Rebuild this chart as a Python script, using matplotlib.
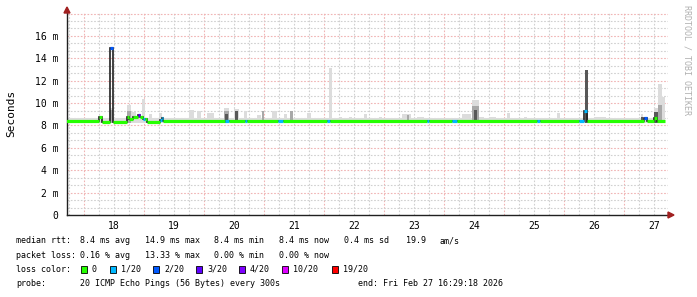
import matplotlib
matplotlib.use("Agg")
import matplotlib.pyplot as plt
from matplotlib.patches import Polygon, Rectangle
import numpy as np

W, H = 697, 297

# time axis in hours since Feb 17 00:00; values in ms
MEDIAN_EDGES_H = [16.4, 30.0, 31.2, 34.4, 35.6, 41.2, 42.0, 43.6, 45.6, 46.4,
                  47.6, 48.4, 49.2, 54.4, 55.2, 55.6, 80.4, 82.0, 88.4, 89.2,
                  101.6, 103.6, 121.2, 122.4, 161.2, 162.0, 171.2, 173.2, 205.2, 206.4,
                  222.0, 224.0, 225.2, 248.0, 249.2, 252.0, 253.2, 256.4]
MEDIAN_MS = [8.4, 8.8, 8.35, 14.9, 8.35, 8.8, 8.6, 8.75, 8.9, 8.75,
             8.6, 8.55, 8.3, 8.45, 8.7, 8.4, 8.4, 8.4, 8.4, 8.4,
             8.4, 8.4, 8.4, 8.4, 8.4, 8.4, 8.4, 8.4, 8.4, 8.4,
             8.4, 9.3, 8.4, 8.7, 8.4, 8.7, 8.4]
MEDIAN_LOSS = [0, 0, 0, 2, 0, 0, 0, 0, 3, 0,
               1, 0, 0, 1, 1, 0, 1, 0, 1, 0,
               1, 0, 1, 0, 1, 0, 1, 0, 1, 0,
               1, 1, 0, 2, 0, 0, 0]

LOSS_LEVELS = [0, 1, 2, 3, 4, 10, 19]
LOSS_LABELS = ["0", "1/20", "2/20", "3/20", "4/20", "10/20", "19/20"]
LOSS_COLORS = {0: "#26ff00", 1: "#00b8ff", 2: "#0059ff", 3: "#5e00ff",
               4: "#7e00ff", 10: "#dd00ff", 19: "#ff0000"}

# smoke: thin band around the median plus taller columns
SMOKE_BAND_MS = (8.2, 8.7)
SMOKE_BAND_H = (16.4, 256.4)
SMOKE_START_H = [34.4, 34.4, 41.2, 41.2, 42.8, 47.2, 50.0, 54.0, 66.0, 69.2,
                 73.2, 80.0, 80.0, 80.4, 84.0, 84.4, 88.0, 93.2, 95.2, 99.2,
                 104.0, 106.4, 113.2, 122.0, 126.0, 130.0, 136.0, 142.0, 151.2, 153.2,
                 157.2, 175.2, 179.2, 179.2, 180.0, 182.0, 186.0, 193.2, 200.0, 213.2,
                 224.4, 228.0, 246.8, 246.8, 252.0, 252.0, 253.6, 253.6, 255.2]
SMOKE_END_H = [35.6, 35.6, 42.8, 42.8, 44.8, 48.4, 51.2, 55.2, 68.0, 70.8,
               76.0, 82.0, 82.0, 81.6, 86.0, 85.6, 89.2, 94.8, 96.0, 101.2,
               105.2, 107.6, 114.8, 123.2, 127.2, 131.2, 137.2, 143.2, 154.8, 154.0,
               160.0, 178.8, 182.0, 182.0, 181.2, 184.0, 188.8, 194.4, 201.2, 214.4,
               225.6, 232.8, 247.6, 247.6, 253.6, 253.6, 255.2, 255.2, 256.4]
SMOKE_TOP_MS = [9.6, 9.4, 9.8, 9.3, 9.2, 10.4, 9.0, 9.1, 9.4, 9.3,
                9.1, 9.6, 9.3, 9.0, 9.5, 9.3, 9.3, 8.9, 9.3, 9.3,
                9.0, 9.3, 9.1, 13.1, 8.8, 8.8, 9.0, 8.8, 9.0, 8.9,
                8.8, 9.0, 10.3, 9.7, 9.4, 8.8, 8.8, 9.1, 8.8, 9.1,
                13.0, 8.8, 9.0, 8.8, 9.6, 9.2, 11.7, 9.8, 10.5]
SMOKE_SHADE = [0, 1, 0, 1, 0, 0, 0, 0, 0, 0,
               0, 0, 1, 2, 0, 2, 0, 0, 1, 0,
               0, 1, 0, 0, 0, 0, 0, 0, 0, 1,
               0, 0, 0, 1, 2, 0, 0, 0, 0, 0,
               2, 0, 0, 2, 0, 2, 0, 1, 0]
SHADE_COLORS = ["#dcdcdc", "#a8a8a8", "#585858"]

DAY_LABELS = ["18", "19", "20", "21", "22", "23", "24", "25", "26", "27"]
DAY_NOON_H = [36, 60, 84, 108, 132, 156, 180, 204, 228, 252]
Y_TICKS = [0, 2, 4, 6, 8, 10, 12, 14, 16]
Y_LABELS = ["0", "2 m", "4 m", "6 m", "8 m", "10 m", "12 m", "14 m", "16 m"]

LEGEND_ROWS = [
    ("median rtt:", [(80, "8.4 ms avg"), (145, "14.9 ms max"), (214, "8.4 ms min"),
                     (279, "8.4 ms now"), (344, "0.4 ms sd"), (406, "19.9"), (440, "am/s")]),
    ("packet loss:", [(80, "0.16 % avg"), (145, "13.33 % max"), (214, "0.00 % min"),
                      (279, "0.00 % now")]),
    ("loss color:", []),
    ("probe:", [(80, "20 ICMP Echo Pings (56 Bytes) every 300s"),
                (358, "end: Fri Feb 27 16:29:18 2026")]),
]
ROW_Y = [240.5, 255.5, 269.0, 283.5]
BOX_X = [81, 110, 153, 196, 239, 282, 332]

plt.rcParams["font.family"] = "DejaVu Sans Mono"

X0, X1 = 17.2, 257.6
Y0, Y1 = 0, 18.14


def fx(px):
    return px / W


def fy(py):
    return 1 - py / H


fig = plt.figure(figsize=(W / 100, H / 100), dpi=100)
fig.patch.set_facecolor("white")
ax = fig.add_axes([fx(67), fy(215), fx(668) - fx(67), fy(12) - fy(215)])
ax.set_xlim(X0, X1)
ax.set_ylim(Y0, Y1)

# grid
for h in np.arange(18, X1, 6):
    major = h % 24 == 0
    ax.axvline(h, color="#f0b4b4" if major else "#d0d0d0", lw=0.8,
               ls=(0, (1.5, 1.5)), zorder=0)
for v in np.arange(2 / 3, Y1, 2 / 3):
    major = abs(v / 2 - round(v / 2)) < 1e-6
    ax.axhline(v, color="#f0b4b4" if major else "#d0d0d0", lw=0.8,
               ls=(0, (1.5, 1.5)), zorder=0)

# smoke
ax.fill_between(SMOKE_BAND_H, SMOKE_BAND_MS[0], SMOKE_BAND_MS[1],
                color=SHADE_COLORS[0], lw=0, zorder=1)
start = np.array(SMOKE_START_H)
end = np.array(SMOKE_END_H)
top = np.array(SMOKE_TOP_MS)
shade = np.array(SMOKE_SHADE)
for s in range(3):
    m = shade == s
    ax.bar(start[m], top[m] - SMOKE_BAND_MS[0], width=end[m] - start[m],
           bottom=SMOKE_BAND_MS[0], align="edge", color=SHADE_COLORS[s],
           lw=0, zorder=2 + s)

# median: thin dark line with thick loss-coloured segments
ax.stairs(MEDIAN_MS, MEDIAN_EDGES_H, baseline=None, color="#202020",
          lw=1.2, zorder=6)
for i, v in enumerate(MEDIAN_MS):
    ax.hlines(v, MEDIAN_EDGES_H[i], MEDIAN_EDGES_H[i + 1],
              color=LOSS_COLORS[MEDIAN_LOSS[i]], lw=2.3, zorder=7,
              capstyle="butt")

# axes
for side in ["top", "right"]:
    ax.spines[side].set_visible(False)
for side in ["left", "bottom"]:
    ax.spines[side].set_color("#202020")
    ax.spines[side].set_linewidth(1.0)
ax.set_facecolor("white")
ax.set_yticks(Y_TICKS)
ax.set_yticklabels(Y_LABELS, fontsize=7)
ax.set_xticks(DAY_NOON_H)
ax.set_xticklabels(DAY_LABELS, fontsize=7)
ax.tick_params(axis="both", length=0)
ax.tick_params(axis="y", pad=6)
ax.tick_params(axis="x", pad=4)

fig.text(fx(11), fy(113), "Seconds", rotation=90, fontsize=8,
         ha="center", va="center")
fig.text(fx(687), fy(60), "RRDTOOL / TOBI OETIKER", rotation=270,
         fontsize=6, color="#b0b0b0", ha="center", va="center")

# axis arrows
arrow = "#a02020"
fig.patches.append(Polygon([(fx(64), fy(13)), (fx(70), fy(13)), (fx(67), fy(7))],
                           closed=True, color=arrow, transform=fig.transFigure))
fig.patches.append(Polygon([(fx(668), fy(212)), (fx(668), fy(218)), (fx(674), fy(215))],
                           closed=True, color=arrow, transform=fig.transFigure))

# legend
LEG_FS = 6.0
for (label, items), y in zip(LEGEND_ROWS, ROW_Y):
    fig.text(fx(16), fy(y), label, fontsize=LEG_FS, ha="left", va="center")
    for x, s in items:
        fig.text(fx(x), fy(y), s, fontsize=LEG_FS, ha="left", va="center")

for lvl, lab, bx in zip(LOSS_LEVELS, LOSS_LABELS, BOX_X):
    fig.patches.append(Rectangle((fx(bx), fy(ROW_Y[2] + 3.5)), fx(6), 7 / H,
                                 facecolor=LOSS_COLORS[lvl], edgecolor="black",
                                 lw=0.6, transform=fig.transFigure))
    fig.text(fx(bx + 11), fy(ROW_Y[2]), lab, fontsize=LEG_FS, ha="left", va="center")

fig.savefig("out.png", dpi=100, facecolor="white")
